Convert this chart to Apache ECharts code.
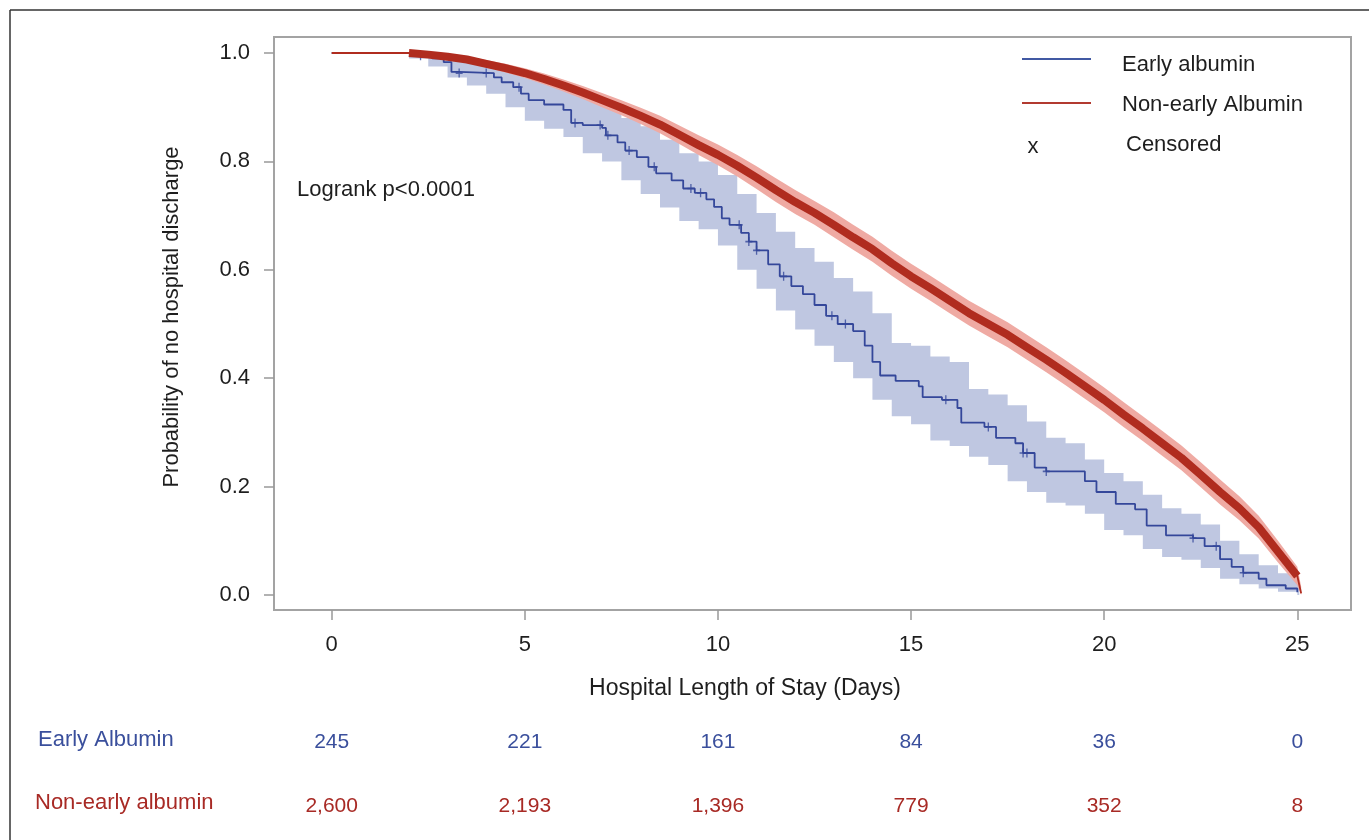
<!DOCTYPE html>
<html>
<head>
<meta charset="utf-8">
<script src="https://cdn.jsdelivr.net/npm/echarts@6/dist/echarts.min.js"></script>
<style>
html,body{margin:0;padding:0;background:#fff;}
#chart{width:1369px;height:840px;}
</style>
</head>
<body>
<div id="chart"></div>
<script>
// ---- Data ----
var xTicks = [0, 5, 10, 15, 20, 25];
var yTicks = [0, 0.2, 0.4, 0.6, 0.8, 1.0];

// Early albumin KM estimate (step function)
var blueT = [0, 2.3, 2.6, 2.9, 3.1, 3.3, 4.2, 4.4, 4.7, 4.9, 5.1, 5.5, 6.0, 6.2, 6.5, 7.0, 7.1, 7.4, 7.6, 7.9, 8.2, 8.4, 8.8, 9.1, 9.4, 9.7, 9.9, 10.1, 10.3, 10.6, 10.8, 11.0, 11.3, 11.6, 11.9, 12.2, 12.5, 12.8, 13.1, 13.5, 13.8, 14.0, 14.2, 14.6, 15.2, 15.3, 15.8, 16.2, 16.3, 16.9, 17.2, 17.7, 17.9, 18.2, 18.5, 19.5, 19.8, 20.3, 20.8, 21.1, 21.6, 22.3, 22.6, 23.0, 23.3, 23.6, 24.0, 24.2, 24.7, 25.0];
var blueS = [1.0, 0.995, 0.99, 0.983, 0.965, 0.963, 0.955, 0.946, 0.937, 0.925, 0.913, 0.905, 0.895, 0.871, 0.867, 0.862, 0.848, 0.835, 0.82, 0.808, 0.79, 0.778, 0.765, 0.75, 0.742, 0.73, 0.716, 0.695, 0.683, 0.668, 0.652, 0.636, 0.61, 0.588, 0.57, 0.555, 0.535, 0.515, 0.5, 0.487, 0.46, 0.43, 0.405, 0.395, 0.385, 0.365, 0.36, 0.345, 0.318, 0.31, 0.29, 0.28, 0.262, 0.235, 0.228, 0.21, 0.19, 0.168, 0.158, 0.128, 0.11, 0.105, 0.09, 0.066, 0.052, 0.041, 0.03, 0.018, 0.012, 0.005];
// Early albumin confidence band (step)
var blueBandT  = [2.0, 2.5, 3.0, 3.5, 4.0, 4.5, 5.0, 5.5, 6.0, 6.5, 7.0, 7.5, 8.0, 8.5, 9.0, 9.5, 10.0, 10.5, 11.0, 11.5, 12.0, 12.5, 13.0, 13.5, 14.0, 14.5, 15.0, 15.5, 16.0, 16.5, 17.0, 17.5, 18.0, 18.5, 19.0, 19.5, 20.0, 20.5, 21.0, 21.5, 22.0, 22.5, 23.0, 23.5, 24.0, 24.5, 25.0, 25.05];
var blueBandLo = [0.99, 0.975, 0.955, 0.94, 0.925, 0.9, 0.875, 0.86, 0.845, 0.815, 0.8, 0.765, 0.74, 0.715, 0.69, 0.675, 0.645, 0.6, 0.565, 0.525, 0.49, 0.46, 0.43, 0.4, 0.36, 0.33, 0.315, 0.285, 0.275, 0.255, 0.24, 0.21, 0.19, 0.17, 0.165, 0.15, 0.12, 0.11, 0.085, 0.07, 0.065, 0.05, 0.03, 0.02, 0.012, 0.006, 0.0, 0.0];
var blueBandHi = [1.0, 1.0, 0.995, 0.985, 0.98, 0.97, 0.955, 0.945, 0.935, 0.915, 0.91, 0.88, 0.865, 0.84, 0.815, 0.8, 0.775, 0.74, 0.705, 0.67, 0.64, 0.615, 0.585, 0.56, 0.52, 0.465, 0.46, 0.44, 0.43, 0.38, 0.37, 0.35, 0.32, 0.29, 0.28, 0.25, 0.225, 0.21, 0.185, 0.16, 0.15, 0.13, 0.1, 0.075, 0.055, 0.04, 0.028, 0.028];
var blueCensorT = [2.3, 3.3, 4.0, 4.85, 6.3, 6.95, 7.15, 7.7, 8.35, 9.3, 9.55, 10.55, 10.8, 11.0, 11.7, 12.95, 13.3, 15.9, 17.0, 17.9, 18.0, 18.5, 22.3, 22.9, 23.6];

// Non-early albumin KM estimate
var redT  = [0, 2.0, 2.5, 3.0, 3.5, 4.0, 4.5, 5.0, 5.5, 6.0, 6.5, 7.0, 7.5, 8.0, 8.5, 9.0, 9.5, 10.0, 10.5, 11.0, 11.5, 12.0, 12.5, 13.0, 13.5, 14.0, 14.5, 15.0, 15.5, 16.0, 16.5, 17.0, 17.5, 18.0, 18.5, 19.0, 19.5, 20.0, 20.5, 21.0, 21.5, 22.0, 22.5, 23.0, 23.5, 24.0, 24.5, 25.0, 25.1];
var redS  = [1.0, 1.0, 0.997, 0.993, 0.988, 0.98, 0.972, 0.963, 0.952, 0.94, 0.927, 0.913, 0.899, 0.884, 0.868, 0.849, 0.83, 0.812, 0.792, 0.77, 0.747, 0.725, 0.705, 0.683, 0.66, 0.638, 0.612, 0.588, 0.566, 0.543, 0.52, 0.5, 0.48, 0.457, 0.434, 0.41, 0.385, 0.36, 0.333, 0.307, 0.28, 0.253, 0.222, 0.19, 0.16, 0.125, 0.08, 0.035, 0.003];
var redHi = [1.0, 1.0, 1.0, 0.998, 0.994, 0.987, 0.98, 0.972, 0.962, 0.951, 0.939, 0.926, 0.913, 0.899, 0.884, 0.866, 0.848, 0.831, 0.812, 0.791, 0.769, 0.747, 0.727, 0.706, 0.683, 0.661, 0.635, 0.611, 0.589, 0.566, 0.543, 0.523, 0.503, 0.48, 0.457, 0.433, 0.408, 0.383, 0.356, 0.33, 0.303, 0.276, 0.245, 0.213, 0.182, 0.146, 0.1, 0.052, 0.015];
var redLo = [1.0, 1.0, 0.993, 0.988, 0.982, 0.973, 0.964, 0.954, 0.942, 0.929, 0.915, 0.9, 0.885, 0.869, 0.852, 0.832, 0.812, 0.793, 0.772, 0.749, 0.725, 0.703, 0.683, 0.66, 0.637, 0.615, 0.589, 0.565, 0.543, 0.52, 0.497, 0.477, 0.457, 0.434, 0.411, 0.387, 0.362, 0.337, 0.31, 0.284, 0.257, 0.23, 0.199, 0.167, 0.138, 0.104, 0.06, 0.018, 0.0];

// Numbers at risk
var riskEarly    = ['245', '221', '161', '84', '36', '0'];
var riskNonEarly = ['2,600', '2,193', '1,396', '779', '352', '8'];

// ---- Styling ----
var FONT = "'Liberation Sans', Arial, sans-serif";
var BLUE = '#34479a', RED = '#b02c1f';
var BLUE_BAND = '#bfc7e1', RED_BAND = '#efaaa3';
var TXT = '#1e1e1e';

function zip(a, b) { return a.map(function (v, i) { return [v, b[i]]; }); }
function stepAt(t) {
  var v = blueS[0];
  for (var i = 0; i < blueT.length; i++) { if (blueT[i] <= t) v = blueS[i]; }
  return v;
}

function bandRender(T, Lo, Hi, stepped, fill) {
  return function (params, api) {
    var up = [], dn = [];
    for (var i = 0; i < T.length; i++) {
      up.push(api.coord([T[i], Hi[i]]));
      if (stepped && i < T.length - 1) up.push(api.coord([T[i + 1], Hi[i]]));
    }
    for (var j = T.length - 1; j >= 0; j--) {
      if (stepped && j < T.length - 1) dn.push(api.coord([T[j + 1], Lo[j]]));
      dn.push(api.coord([T[j], Lo[j]]));
    }
    return { type: 'polygon', shape: { points: up.concat(dn) }, style: { fill: fill, stroke: null } };
  };
}

var chart = echarts.init(document.getElementById('chart'), null, { renderer: 'canvas' });

var xMin = -1.494, xMax = 26.39, yMin = -0.0277, yMax = 1.0295;

var option = {
  backgroundColor: '#ffffff',
  animation: false,
  grid: { left: 274, top: 37, width: 1077, height: 573, show: true, borderColor: '#a3a3a3', borderWidth: 2, backgroundColor: 'transparent' },
  xAxis: [{
    type: 'value', min: xMin, max: xMax,
    axisLine: { show: false, onZero: false },
    splitLine: { show: false },
    axisTick: { show: true, inside: false, length: 10, customValues: xTicks, lineStyle: { color: '#999', width: 1.5 } },
    axisLabel: { customValues: xTicks, margin: 24, fontSize: 22, color: TXT, fontFamily: FONT, formatter: function (v) { return String(v); } }
  }, {
    type: 'value', min: xMin, max: xMax, position: 'bottom',
    axisLine: { show: false, onZero: false }, splitLine: { show: false }, axisTick: { show: false },
    axisLabel: { customValues: xTicks, margin: 122, fontSize: 21, color: '#3a4f9c', fontFamily: FONT,
      formatter: function (v) { return riskEarly[xTicks.indexOf(Math.round(v))] || ''; } }
  }, {
    type: 'value', min: xMin, max: xMax, position: 'bottom',
    axisLine: { show: false, onZero: false }, splitLine: { show: false }, axisTick: { show: false },
    axisLabel: { customValues: xTicks, margin: 186, fontSize: 21, color: '#a82a25', fontFamily: FONT,
      formatter: function (v) { return riskNonEarly[xTicks.indexOf(Math.round(v))] || ''; } }
  }],
  yAxis: {
    type: 'value', min: yMin, max: yMax,
    axisLine: { show: false, onZero: false },
    splitLine: { show: false },
    axisTick: { show: true, inside: false, length: 10, customValues: yTicks, lineStyle: { color: '#999', width: 1.5 } },
    axisLabel: { customValues: yTicks, margin: 24, fontSize: 22, color: TXT, fontFamily: FONT, formatter: function (v) { return v.toFixed(1); } }
  },
  series: [
    { type: 'custom', coordinateSystem: 'cartesian2d', clip: true, silent: true, z: 1,
      data: [[0, 0]], encode: { x: 0, y: 1 },
      renderItem: bandRender(blueBandT, blueBandLo, blueBandHi, true, BLUE_BAND) },
    { type: 'custom', coordinateSystem: 'cartesian2d', clip: true, silent: true, z: 2,
      data: [[0, 0]], encode: { x: 0, y: 1 },
      renderItem: bandRender(redT.slice(1), redLo.slice(1), redHi.slice(1), false, RED_BAND) },
    { name: 'Early albumin', type: 'line', step: 'end', data: zip(blueT, blueS), showSymbol: false, symbol: 'none', z: 3,
      lineStyle: { color: BLUE, width: 1.8 }, itemStyle: { color: BLUE } },
    { name: 'Early censored', type: 'scatter', z: 4, data: blueCensorT.map(function (t) { return [t, stepAt(t)]; }),
      symbol: 'path://M5,0L5,10M0,5L10,5', symbolSize: [7, 9],
      itemStyle: { color: 'none', borderColor: BLUE, borderWidth: 1.5 } },
    { name: 'Non-early Albumin', type: 'line', data: zip(redT, redS), showSymbol: false, symbol: 'none', z: 5,
      lineStyle: { color: RED, width: 1.8 } },
    { name: 'Non-early thick', type: 'line', data: zip(redT.slice(1, redT.length - 1), redS.slice(1, redS.length - 1)), showSymbol: false, symbol: 'none', z: 6,
      lineStyle: { color: RED, width: 8 } }
  ],
  graphic: [
    { type: 'line', shape: { x1: 10, y1: 10, x2: 1369, y2: 10 }, style: { stroke: '#333', lineWidth: 1.5 } },
    { type: 'line', shape: { x1: 10, y1: 10, x2: 10, y2: 840 }, style: { stroke: '#333', lineWidth: 1.5 } },
    { type: 'text', x: 172, y: 317, rotation: Math.PI / 2,
      style: { text: 'Probability of no hospital discharge', font: '22px ' + FONT, fill: TXT, align: 'center', verticalAlign: 'middle' } },
    { type: 'text', x: 745, y: 689,
      style: { text: 'Hospital Length of Stay (Days)', font: '23px ' + FONT, fill: TXT, align: 'center', verticalAlign: 'middle' } },
    { type: 'text', x: 297, y: 190,
      style: { text: 'Logrank p<0.0001', font: '22px ' + FONT, fill: TXT, align: 'left', verticalAlign: 'middle' } },
    // legend
    { type: 'line', shape: { x1: 1022, y1: 59, x2: 1091, y2: 59 }, style: { stroke: '#4159a3', lineWidth: 2 } },
    { type: 'text', x: 1122, y: 65, style: { text: 'Early albumin', font: '22px ' + FONT, fill: TXT, align: 'left', verticalAlign: 'middle' } },
    { type: 'line', shape: { x1: 1022, y1: 103, x2: 1091, y2: 103 }, style: { stroke: '#b23a30', lineWidth: 2 } },
    { type: 'text', x: 1122, y: 105, style: { text: 'Non-early Albumin', font: '22px ' + FONT, fill: TXT, align: 'left', verticalAlign: 'middle' } },
    { type: 'text', x: 1033, y: 147, style: { text: 'x', font: '22px ' + FONT, fill: TXT, align: 'center', verticalAlign: 'middle' } },
    { type: 'text', x: 1126, y: 145, style: { text: 'Censored', font: '22px ' + FONT, fill: TXT, align: 'left', verticalAlign: 'middle' } },
    // risk table row labels
    { type: 'text', x: 38, y: 740, style: { text: 'Early Albumin', font: '22px ' + FONT, fill: '#3a4f9c', align: 'left', verticalAlign: 'middle' } },
    { type: 'text', x: 35, y: 803, style: { text: 'Non-early albumin', font: '22px ' + FONT, fill: '#a82a25', align: 'left', verticalAlign: 'middle' } }
  ]
};
chart.setOption(option);
</script>
</body>
</html>
